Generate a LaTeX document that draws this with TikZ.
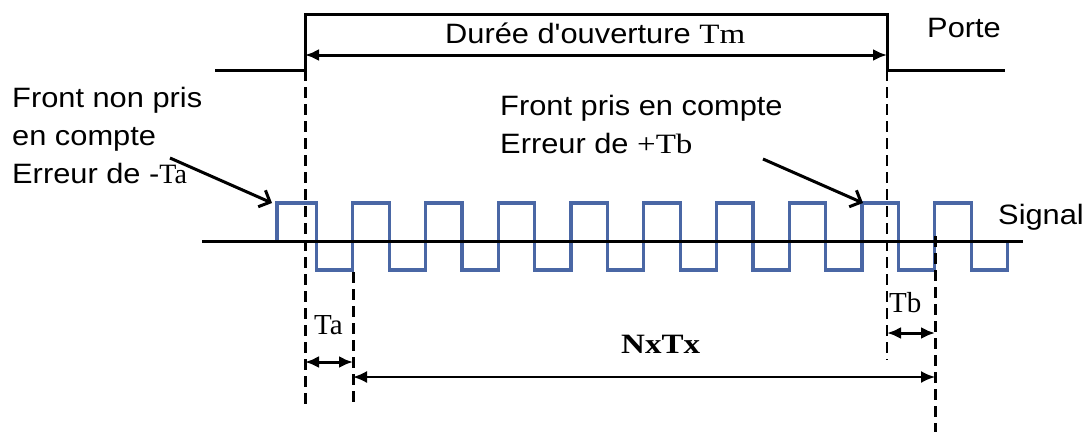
\documentclass[tikz,border=0pt]{standalone}
\usepackage{fontspec}
\newfontfamily\lab{Liberation Sans}[FakeStretch=1.1]
\newfontfamily\ser{Liberation Serif}
\newfontfamily\serw{Liberation Serif}[FakeStretch=1.18]
\usetikzlibrary{arrows.meta}
\definecolor{wavecol}{RGB}{74,103,165}
\begin{document}
\begin{tikzpicture}[x=1pt,y=-1pt,
  txt/.style={inner sep=0pt, anchor=base west, font=\lab\fontsize{28}{38}\selectfont},
  mtxt/.style={inner sep=0pt, anchor=base west, font=\ser\fontsize{29}{34}\selectfont},
  gate/.style={line width=3pt, line join=miter},
  axis/.style={line width=3pt},
  wavestyle/.style={wavecol, line width=3.3pt},
  thickdash/.style={line width=3pt, dash pattern=on 11pt off 6pt},
  thindash/.style={line width=2pt, dash pattern=on 11pt off 6pt},
  dimarrow/.style={line width=3pt, {Latex[length=14pt,width=12pt]}-{Latex[length=14pt,width=12pt]}},
  longarrow/.style={line width=2pt, {Latex[length=14pt,width=12pt]}-{Latex[length=14pt,width=12pt]}},
  ptr/.style={line width=3pt, -{Straight Barb[length=9pt,width=18pt,line width=3pt]}}]
\useasboundingbox (0,0) rectangle (1087,432);
% gate
\coordinate (g0) at (215,70);
\coordinate (g1) at (305,70);
\coordinate (g2) at (305,14);
\coordinate (g3) at (887,14);
\coordinate (g4) at (887,70);
\coordinate (g5) at (1005,70);
\draw[gate] (g0) -- (g1) -- (g2) -- (g3) -- (g4) -- (g5);
\coordinate (tmL) at (305,55);
\coordinate (tmR) at (887,55);
\draw[dimarrow] (tmL) -- (tmR);
\node[txt] (duree) at (445,43) {Durée d'ouverture {\serw Tm}};
\node[txt] (porte) at (927,37) {Porte};
% signal
\draw[wavestyle] (277,241) -- (277,203) -- (316.35,203) -- (316.35,270)
  \foreach \k in {0,...,8}{ -- ({352.75+72.75*\k},270) -- ({352.75+72.75*\k},203)
     -- ({389.15+72.75*\k},203) -- ({389.15+72.75*\k},270)}
  -- (1007.5,270) -- (1007.5,241);
\coordinate (ax0) at (202,241);
\coordinate (ax1) at (1023,241);
\draw[axis] (ax0) -- (ax1);
\node[txt] (signal) at (998,224) {Signal};
% dashed lines
\coordinate (d1t) at (305,70);  \coordinate (d1b) at (305,405);
\coordinate (d2t) at (353,272); \coordinate (d2b) at (353,405);
\coordinate (d3t) at (887,70);  \coordinate (d3b) at (887,360);
\coordinate (d4t) at (935,236); \coordinate (d4b) at (935,432);
\draw[thickdash] (d1t) -- (d1b);
\draw[thickdash] (d2t) -- (d2b);
\draw[thindash] (d3t) -- (d3b);
\draw[thickdash] (d4t) -- (d4b);
% dimension arrows
\coordinate (taL) at (305,362); \coordinate (taR) at (353,362);
\draw[dimarrow] (taL) -- (taR);
\node[mtxt] (ta) at (314,334) {Ta};
\coordinate (tbL) at (887,333); \coordinate (tbR) at (935,333);
\draw[dimarrow] (tbL) -- (tbR);
\node[mtxt] (tb) at (889,312) {Tb};
\coordinate (nxL) at (353,377); \coordinate (nxR) at (935,377);
\draw[longarrow] (nxL) -- (nxR);
\node[mtxt, font=\serw\bfseries\fontsize{28}{34}\selectfont] (nx) at (621,353) {NxTx};
% left annotation
\node[txt] (fl1) at (12,107) {Front non pris};
\node[txt] (fl2) at (12,145) {en compte};
\node[txt] (fl3) at (12,183) {Erreur de -{\ser Ta}};
\coordinate (pl0) at (170,158);
\coordinate (pl1) at (272,203);
\draw[ptr] (pl0) -- (pl1);
% right annotation
\node[txt] (fr1) at (500,115) {Front pris en compte};
\node[txt] (fr2) at (500,153) {Erreur de {\serw +Tb}};
\coordinate (pr0) at (763,159);
\coordinate (pr1) at (863,203);
\draw[ptr] (pr0) -- (pr1);
\end{tikzpicture}
\end{document}
